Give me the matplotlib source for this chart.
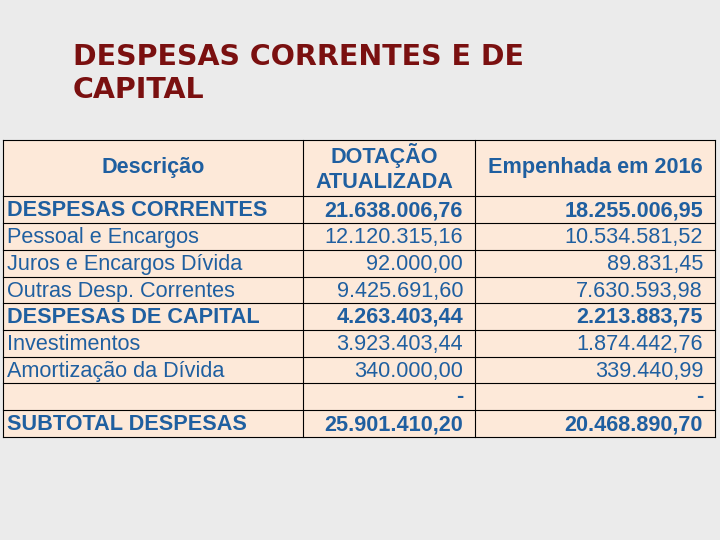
import matplotlib
matplotlib.use("Agg")
import matplotlib.pyplot as plt
from matplotlib.patches import Rectangle

title = "DESPESAS CORRENTES E DE\nCAPITAL"
headers = ["Descrição", "DOTAÇÃO\nATUALIZADA", "Empenhada em 2016"]
descricao = ["DESPESAS CORRENTES", "Pessoal e Encargos", "Juros e Encargos Dívida",
             "Outras Desp. Correntes", "DESPESAS DE CAPITAL", "Investimentos",
             "Amortização da Dívida", "", "SUBTOTAL DESPESAS"]
dotacao = ["21.638.006,76", "12.120.315,16", "92.000,00", "9.425.691,60",
           "4.263.403,44", "3.923.403,44", "340.000,00", "-", "25.901.410,20"]
empenhada = ["18.255.006,95", "10.534.581,52", "89.831,45", "7.630.593,98",
             "2.213.883,75", "1.874.442,76", "339.440,99", "-", "20.468.890,70"]
bold = [True, False, False, False, True, False, False, True, True]

fig = plt.figure(figsize=(7.2, 5.4), dpi=100)
fig.patch.set_facecolor("#ebebeb")
ax = fig.add_axes([0, 0, 1, 1])
ax.set_xlim(0, 720); ax.set_ylim(540, 0); ax.axis("off")

ax.text(73, 43, title, fontsize=20.5, color="#7a1010", family="DejaVu Sans",
        fontweight="semibold", va="top", ha="left", linespacing=1.25)

cols = [3, 303, 475, 715]
rows = [140, 196, 223, 250, 277, 303, 330, 357, 383, 410, 437]
fc = "#fde9d9"; tc = "#1f5fa0"; fs = 15.6
ax.add_patch(Rectangle((cols[0], rows[0]), cols[-1]-cols[0], rows[-1]-rows[0],
                       facecolor=fc, edgecolor="none"))
for x in cols:
    ax.plot([x, x], [rows[0], rows[-1]], color="black", lw=0.8)
for y in rows:
    ax.plot([cols[0], cols[-1]], [y, y], color="black", lw=0.8)

hy = (rows[0]+rows[1])/2
ax.text((cols[0]+cols[1])/2, hy, headers[0], ha="center", va="center", fontsize=fs,
        fontweight="bold", color=tc, family="Liberation Sans")
ax.text((cols[1]+cols[2])/2 - 5, hy, headers[1], ha="center", va="center", fontsize=fs,
        fontweight="bold", color=tc, family="Liberation Sans", linespacing=1.2)
ax.text((cols[2]+cols[3])/2, hy, headers[2], ha="center", va="center", fontsize=fs,
        fontweight="bold", color=tc, family="Liberation Sans")

for i in range(len(descricao)):
    yc = (rows[i+1]+rows[i+2])/2 + 1
    fw = "bold" if bold[i] else "normal"
    if i == 7:
        yc = rows[i+1] + 14
    ax.text(cols[0]+4, yc, descricao[i], ha="left", va="center", fontsize=fs,
            fontweight=fw, color=tc, family="Liberation Sans")
    ax.text(cols[2]-12, yc, dotacao[i], ha="right", va="center", fontsize=fs,
            fontweight=fw, color=tc, family="Liberation Sans")
    ax.text(cols[3]-12, yc, empenhada[i], ha="right", va="center", fontsize=fs,
            fontweight=fw, color=tc, family="Liberation Sans")

fig.savefig("out.png", dpi=100, facecolor=fig.get_facecolor())
